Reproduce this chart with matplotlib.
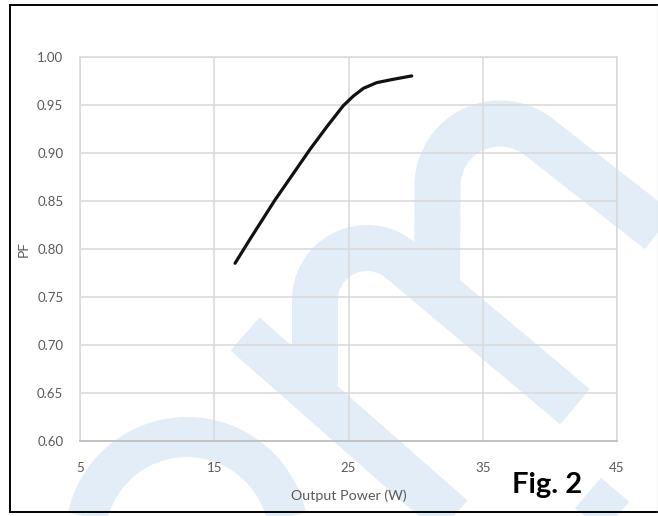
from __future__ import annotations

import numpy as np
import matplotlib

matplotlib.use("Agg")
import matplotlib.pyplot as plt

puissance = [16.55, 17.66, 19.53, 20.77, 22.13, 23.38, 24.61, 25.36, 26.10, 27.10, 28.34, 29.71]
pf = [0.785, 0.810, 0.851, 0.876, 0.9035, 0.927, 0.949, 0.959, 0.967, 0.973, 0.9765, 0.980]

graduations_x = [5, 15, 25, 35, 45]
graduations_y = [0.60, 0.65, 0.70, 0.75, 0.80, 0.85, 0.90, 0.95, 1.00]

LARGEUR_PX, HAUTEUR_PX = 658, 516
DPI = 100
BLEU_FILIGRANE = "#e3edf7"
GRIS_TEXTE = "#595959"
GRIS_GRILLE = "#d9d9d9"


def px_vers_pt(px: float) -> float:
    return px * 72.0 / DPI


def arc(cx: float, cy: float, r: float, t0: float, t1: float, n: int = 80):
    t = np.linspace(t0, t1, n)
    return list(cx + r * np.cos(t)), list(cy - r * np.sin(t))


def bande(ax, xs, ys, largeur: float) -> None:
    ax.plot(xs, ys, color=BLEU_FILIGRANE, lw=px_vers_pt(largeur),
            solid_capstyle="butt", solid_joinstyle="round", zorder=1)


def tracer_filigrane(fond) -> None:
    # arche en bas a gauche
    xs, ys = arc(187, 539, 102, np.pi, 0.0)
    bande(fond, xs, ys, 40)

    # diagonale
    bande(fond, [245, 545], [334, 598], 44)

    # arche du milieu, la jambe gauche descend jusqu'a la diagonale
    t_fin = np.radians(50)
    xs, ys = arc(367, 300, 52, np.pi, t_fin)
    pente = 1.0 / np.tan(t_fin)
    x_fin = 575
    bande(fond, [315] + xs + [x_fin], [385] + ys + [ys[-1] + (x_fin - xs[-1]) * pente], 46)

    # arche de droite, la jambe gauche rejoint l'arche du milieu
    t_fin = np.radians(52)
    xs, ys = arc(500, 186, 62.5, np.pi, t_fin)
    pente = 1.0 / np.tan(t_fin)
    x_fin = 720
    bande(fond, [437] + xs + [x_fin], [288] + ys + [ys[-1] + (x_fin - xs[-1]) * pente], 46)

    # amorce en bas a droite
    bande(fond, [588, 700], [493, 588], 40)


def tracer_cadre(fond) -> None:
    fond.plot([10, 658], [4.7, 4.7], color="black", lw=1.4, zorder=3)
    fond.plot([10, 10], [4.7, 512], color="black", lw=1.4, zorder=3)
    fond.plot([10, 658], [512, 512], color="black", lw=1.4, zorder=3)
    fond.plot([657.5, 657.5], [4.7, 512], color="#d0d0d0", lw=1.0, zorder=3)


def main() -> None:
    plt.rcParams["font.family"] = ["Lato", "DejaVu Sans"]

    fig = plt.figure(figsize=(LARGEUR_PX / DPI, HAUTEUR_PX / DPI), dpi=DPI)
    fig.patch.set_facecolor("white")

    fond = fig.add_axes([0, 0, 1, 1], zorder=0)
    fond.set_xlim(0, LARGEUR_PX)
    fond.set_ylim(HAUTEUR_PX, 0)
    fond.axis("off")
    tracer_filigrane(fond)
    tracer_cadre(fond)

    gauche, droite = 80 / LARGEUR_PX, 617 / LARGEUR_PX
    haut, bas = 1 - 56.7 / HAUTEUR_PX, 1 - 441 / HAUTEUR_PX
    ax = fig.add_axes([gauche, bas, droite - gauche, haut - bas], zorder=1)
    ax.patch.set_alpha(0.0)

    ax.plot(puissance, pf, color="#111111", lw=2.3,
            solid_capstyle="round", solid_joinstyle="round", zorder=3)

    ax.set_xlim(graduations_x[0], graduations_x[-1])
    ax.set_ylim(graduations_y[0], graduations_y[-1])
    ax.set_xticks(graduations_x)
    ax.set_yticks(graduations_y)
    ax.set_yticklabels([f"{v:.2f}" for v in graduations_y])

    ax.grid(True, color=GRIS_GRILLE, lw=1.1)
    ax.set_axisbelow(True)
    for cote in ("left", "top", "right"):
        ax.spines[cote].set_color(GRIS_GRILLE)
        ax.spines[cote].set_linewidth(1.1)
    ax.spines["bottom"].set_color("#bfbfbf")
    ax.spines["bottom"].set_linewidth(1.3)

    ax.tick_params(axis="both", length=0, labelsize=9.5, labelcolor=GRIS_TEXTE)
    ax.tick_params(axis="x", pad=15)
    ax.tick_params(axis="y", pad=12)

    ax.set_xlabel("Output Power (W)", fontsize=10.3, color=GRIS_TEXTE)
    ax.xaxis.set_label_coords(0.5, -0.125)
    ax.set_ylabel("PF", fontsize=10, color=GRIS_TEXTE)
    ax.yaxis.set_label_coords(-0.093, 0.5)

    fig.text(547 / LARGEUR_PX, 1 - 493 / HAUTEUR_PX, "Fig. 2", fontsize=21,
             fontweight="bold", color="black", ha="center", va="baseline", zorder=5)

    fig.savefig("out.png", dpi=DPI)
    plt.close(fig)


if __name__ == "__main__":
    main()
